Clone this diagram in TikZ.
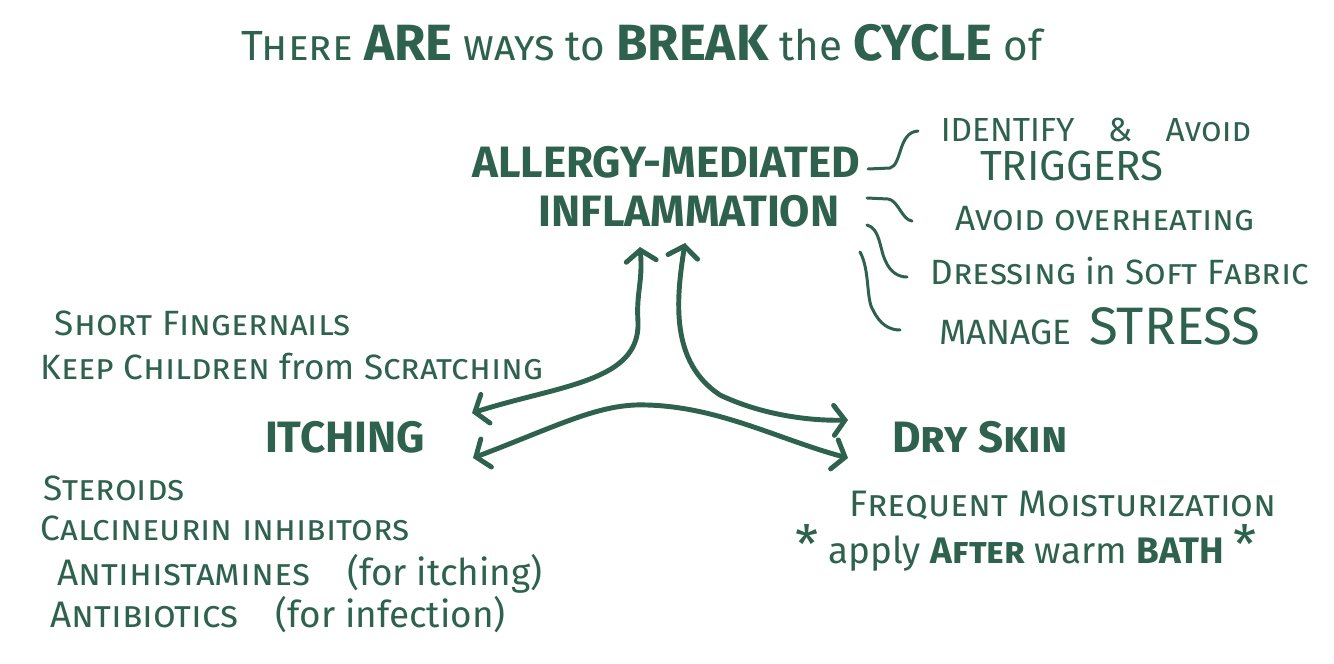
\documentclass[tikz,border=0pt]{standalone}
\usepackage{fontspec}
\setmainfont{Fira Sans}
\usetikzlibrary{arrows.meta,calc}
\definecolor{chalkgreen}{RGB}{46,98,78}
\tikzset{
  handtext/.style={
    text=chalkgreen,
    inner sep=0pt
  },
  bigword/.style={
    handtext,
    font=\fontsize{25}{30}\selectfont\bfseries
  },
  listword/.style={
    handtext,
    font=\fontsize{20}{24}\selectfont
  },
  cyclearrow/.style={
    draw=chalkgreen,
    line width=2.8pt,
    line cap=round,
    {Straight Barb[length=2.2mm,width=6.0mm,line cap=round]}-{Straight Barb[length=2.2mm,width=6.0mm,line cap=round]}
  },
  tiearrow/.style={
    draw=chalkgreen,
    line width=1.7pt,
    line cap=round
  }
}

\begin{document}
\begin{tikzpicture}[x=0.02cm,y=-0.02cm]

  % Page frame with the proportions of the board.
  \useasboundingbox[fill=white] (0,0) rectangle (1334,663);

  % Heading across the top.
  \node[handtext,font=\fontsize{24}{26}\selectfont] (title) at (642,43)
    {\textsc{There} {\bfseries\fontsize{29}{30}\selectfont ARE} \textsc{ways} to
     {\bfseries\fontsize{29}{30}\selectfont BREAK} the
     {\bfseries\fontsize{29}{30}\selectfont CYCLE} of};

  % The three parts of the cycle.
  \node[bigword] (allergy) at (666,162) {ALLERGY-MEDIATED};
  \node[bigword] (inflam)  at (689,211) {INFLAMMATION};
  \node[bigword] (itching) at (345,437) {ITCHING};
  \node[bigword] (dryskin) at (980,437) {D\textsc{ry} S\textsc{kin}};

  % Ways out of the inflammation.
  \node[listword,font=\fontsize{19}{22}\selectfont] (trig1) at (1096,130)
    {IDENTIFY\quad\&\quad A\textsc{void}};
  \node[listword,font=\fontsize{24}{28}\selectfont] (trig2) at (1072,166) {TRIGGERS};
  \node[listword] (heat)   at (1105,219) {A\textsc{void overheating}};
  \node[listword] (fabric) at (1120,271) {D\textsc{ressing} in S\textsc{oft} F\textsc{abric}};
  \node[listword] (stress) at (1100,326)
    {MANAGE\enspace{\fontsize{30}{34}\selectfont STRESS}};

  % Ways out of the itching.
  \node[listword] (nails) at (203,323) {S\textsc{hort} F\textsc{ingernails}};
  \node[listword] (kids)  at (292,367) {K\textsc{eep} C\textsc{hildren} from S\textsc{cratching}};
  \node[listword] (steroids) at (114,488) {S\textsc{teroids}};
  \node[listword] (calci)    at (225,528) {C\textsc{alcineurin inhibitors}};
  \node[listword,font=\fontsize{21}{24}\selectfont] (antihist) at (300,574)
    {A\textsc{ntihistamines}\quad(for itching)};
  \node[listword,font=\fontsize{21}{24}\selectfont] (antibio) at (278,615)
    {A\textsc{ntibiotics}\quad(for infection)};

  % Ways out of the dry skin.
  \node[listword,font=\fontsize{21}{24}\selectfont] (moist) at (1063,505)
    {F\textsc{requent} M\textsc{oisturization}};
  \node[listword,font=\fontsize{21}{24}\selectfont] (bath) at (1026,548)
    {{\fontsize{30}{30}\selectfont *} apply {\bfseries A\textsc{fter}} warm
     {\bfseries BATH} {\fontsize{30}{30}\selectfont *}};

  % Ends of the cycle arrows.
  \coordinate (itchA) at (472,413);
  \coordinate (itchC) at (473,458);
  \coordinate (upA)   at (640,247);
  \coordinate (upB)   at (685,243);
  \coordinate (dryB)  at (848,420);
  \coordinate (dryC)  at (848,458);

  % Cycle arrows between the three parts.
  \draw[cyclearrow] (itchA) .. controls (560,385) and (640,382) .. (638,322)
    .. controls (636,292) and (643,282) .. (upA);
  \draw[cyclearrow] (upB) .. controls (676,300) and (670,362) .. (720,395)
    .. controls (762,415) and (810,421) .. (dryB);
  \draw[cyclearrow] (itchC) .. controls (560,425) and (600,403) .. (647,405)
    .. controls (720,407) and (780,440) .. (dryC);

  % Curly ties from the inflammation to its list.
  \coordinate (tieA) at (868,169);
  \coordinate (tieB) at (867,198);
  \coordinate (tieC) at (867,225);
  \coordinate (tieD) at (860,252);
  \draw[tiearrow] (tieA) -- (890,168) .. controls (902,165) and (898,132) .. (918,131);
  \draw[tiearrow] (tieB) -- (888,199) .. controls (898,200) and (902,220) .. (912,221);
  \draw[tiearrow] (tieC) .. controls (880,228) and (880,250) .. (885,260)
    .. controls (890,272) and (898,277) .. (907,277);
  \draw[tiearrow] (tieD) .. controls (870,270) and (866,300) .. (873,310)
    .. controls (880,325) and (890,330) .. (900,330);

\end{tikzpicture}
\end{document}
